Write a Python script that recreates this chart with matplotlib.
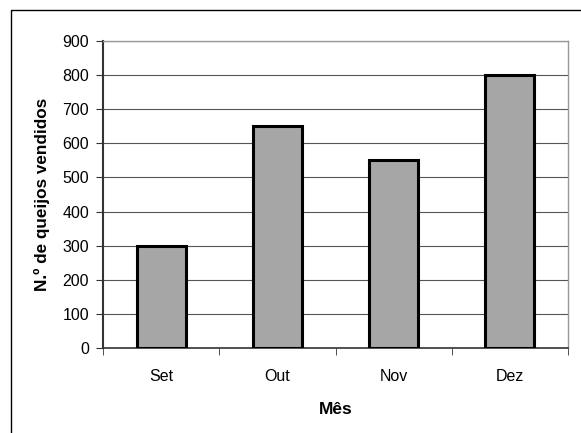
import matplotlib
matplotlib.use("Agg")
import matplotlib.pyplot as plt
from matplotlib.patches import Rectangle

plt.rcParams['font.family'] = ['Liberation Sans', 'DejaVu Sans']

months = ["Set", "Out", "Nov", "Dez"]
cheeses_sold = [300, 650, 550, 800]
y_ticks = [0, 100, 200, 300, 400, 500, 600, 700, 800, 900]

W, H = 581, 433
fig = plt.figure(figsize=(W / 100, H / 100), dpi=100)

# Outer chart frame (extends past the right and bottom edges)
fig.patches.append(Rectangle((11 / W, -0.1), 1.2, 1 - 10 / H + 0.1,
                             transform=fig.transFigure, fill=False,
                             edgecolor="black", linewidth=1.0))

left, right, top, bottom = 103, 568, 41, 348
ax = fig.add_axes([left / W, 1 - bottom / H, (right - left) / W, (bottom - top) / H])

x = range(len(months))
ax.bar(x, cheeses_sold, width=0.42, color="#A6A6A6", edgecolor="black",
       linewidth=2.2, zorder=3)

ax.set_xlim(-0.5, len(months) - 0.5)
ax.set_ylim(0, 900)
ax.set_yticks(y_ticks)
ax.set_yticklabels([str(v) for v in y_ticks], fontsize=11.5)
ax.yaxis.grid(True, color="#555555", linewidth=0.8, zorder=0)
ax.set_axisbelow(True)

# Category labels centred, tick marks between categories
ax.set_xticks(list(x))
ax.set_xticklabels(months, fontsize=11.5)
ax.tick_params(axis="x", length=0, pad=15)
ax.set_xticks([i + 0.5 for i in range(-1, len(months))], minor=True)
ax.tick_params(axis="x", which="minor", length=5, direction="out", color="#333333")
ax.tick_params(axis="y", length=5, direction="out", color="#333333", pad=5)

for side in ("top", "right"):
    ax.spines[side].set_color("#999999")
    ax.spines[side].set_linewidth(1.0)
ax.spines["left"].set_color("#333333")
ax.spines["left"].set_linewidth(1.5)
ax.spines["bottom"].set_color("#333333")
ax.spines["bottom"].set_linewidth(1.2)

ax.set_ylabel("N.º de queijos vendidos", fontsize=12.3, fontweight="bold", labelpad=9)
ax.set_xlabel("Mês", fontsize=12.5, fontweight="bold", labelpad=13)

fig.savefig("out.png", dpi=100)
